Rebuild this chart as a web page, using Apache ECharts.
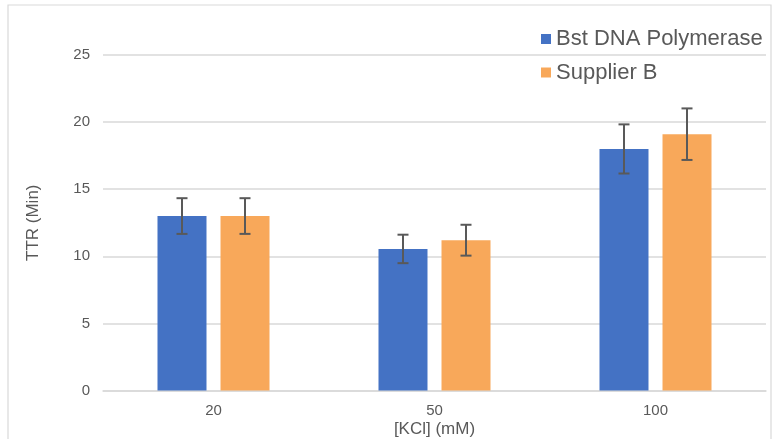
<!DOCTYPE html>
<html>
<head>
<meta charset="utf-8">
<script src="https://cdn.jsdelivr.net/npm/echarts@6/dist/echarts.min.js"></script>
<style>html,body{margin:0;padding:0;background:#fff;}#c{width:777px;height:439px;}</style>
</head>
<body>
<div id="c"></div>
<script>
var categories = ['20', '50', '100'];
var seriesNames = ['Bst DNA Polymerase', 'Supplier B'];
var bstValues = [13.0, 10.55, 18.0];
var bstErr = [1.33, 1.06, 1.83];
var supValues = [13.0, 11.2, 19.1];
var supErr = [1.33, 1.15, 1.92];
var yTicks = [0, 5, 10, 15, 20, 25];

var BAR_W = 49, GAP = 14;
var chart = echarts.init(document.getElementById('c'));

function errSeries(vals, errs, sign) {
  var data = vals.map(function (v, i) { return [i, v - errs[i], v + errs[i]]; });
  return {
    type: 'custom',
    silent: true,
    z: 10,
    renderItem: function (params, api) {
      var ci = api.value(0);
      var lo = api.coord([ci, api.value(1)]);
      var hi = api.coord([ci, api.value(2)]);
      var x = lo[0] + sign * (BAR_W + GAP) / 2;
      var cap = 5.5;
      var st = { stroke: '#595959', lineWidth: 2 };
      return {
        type: 'group',
        children: [
          { type: 'line', shape: { x1: x, y1: hi[1], x2: x, y2: lo[1] }, style: st },
          { type: 'line', shape: { x1: x - cap, y1: hi[1], x2: x + cap, y2: hi[1] }, style: st },
          { type: 'line', shape: { x1: x - cap, y1: lo[1], x2: x + cap, y2: lo[1] }, style: st }
        ]
      };
    },
    encode: { x: 0, y: [1, 2] },
    data: data
  };
}

chart.setOption({
  animation: false,
  textStyle: { fontFamily: 'Liberation Sans, Arial, sans-serif' },
  graphic: [{
    type: 'rect',
    shape: { x: 8, y: 5, width: 763, height: 460 },
    style: { fill: 'none', stroke: '#d9d9d9', lineWidth: 1.2 },
    silent: true, z: -1
  }],
  grid: { left: 103, right: 11, top: 55, bottom: 48.5, containLabel: false, outerBoundsMode: 'none' },
  legend: {
    orient: 'vertical',
    left: 541,
    top: 27,
    padding: 0,
    itemWidth: 10,
    itemHeight: 10,
    itemGap: 9.5,
    icon: 'rect',
    data: seriesNames,
    textStyle: { fontSize: 22, color: '#595959', lineHeight: 24 }
  },
  xAxis: {
    type: 'category',
    data: categories,
    name: '[KCl] (mM)',
    nameLocation: 'middle',
    nameGap: 30,
    nameMoveOverlap: false,
    nameTextStyle: { fontSize: 17, color: '#595959' },
    axisLine: { lineStyle: { color: '#d9d9d9', width: 1.5 } },
    axisTick: { show: false },
    axisLabel: { fontSize: 15, color: '#595959', margin: 13 }
  },
  yAxis: {
    type: 'value',
    min: yTicks[0],
    max: yTicks[yTicks.length - 1],
    interval: 5,
    name: 'TTR (Min)',
    nameLocation: 'middle',
    nameGap: 61,
    nameMoveOverlap: false,
    nameTextStyle: { fontSize: 17, color: '#595959' },
    axisLine: { show: false },
    axisTick: { show: false },
    axisLabel: { fontSize: 15, color: '#595959', margin: 13 },
    splitLine: { lineStyle: { color: '#d9d9d9', width: 1.5 } }
  },
  series: [
    {
      name: seriesNames[0], type: 'bar', data: bstValues,
      barWidth: BAR_W, barGap: (GAP / BAR_W * 100).toFixed(1) + '%',
      itemStyle: { color: '#4472c4' }
    },
    {
      name: seriesNames[1], type: 'bar', data: supValues,
      barWidth: BAR_W,
      itemStyle: { color: '#f8a85a' }
    },
    errSeries(bstValues, bstErr, -1),
    errSeries(supValues, supErr, 1)
  ]
});
</script>
</body>
</html>
